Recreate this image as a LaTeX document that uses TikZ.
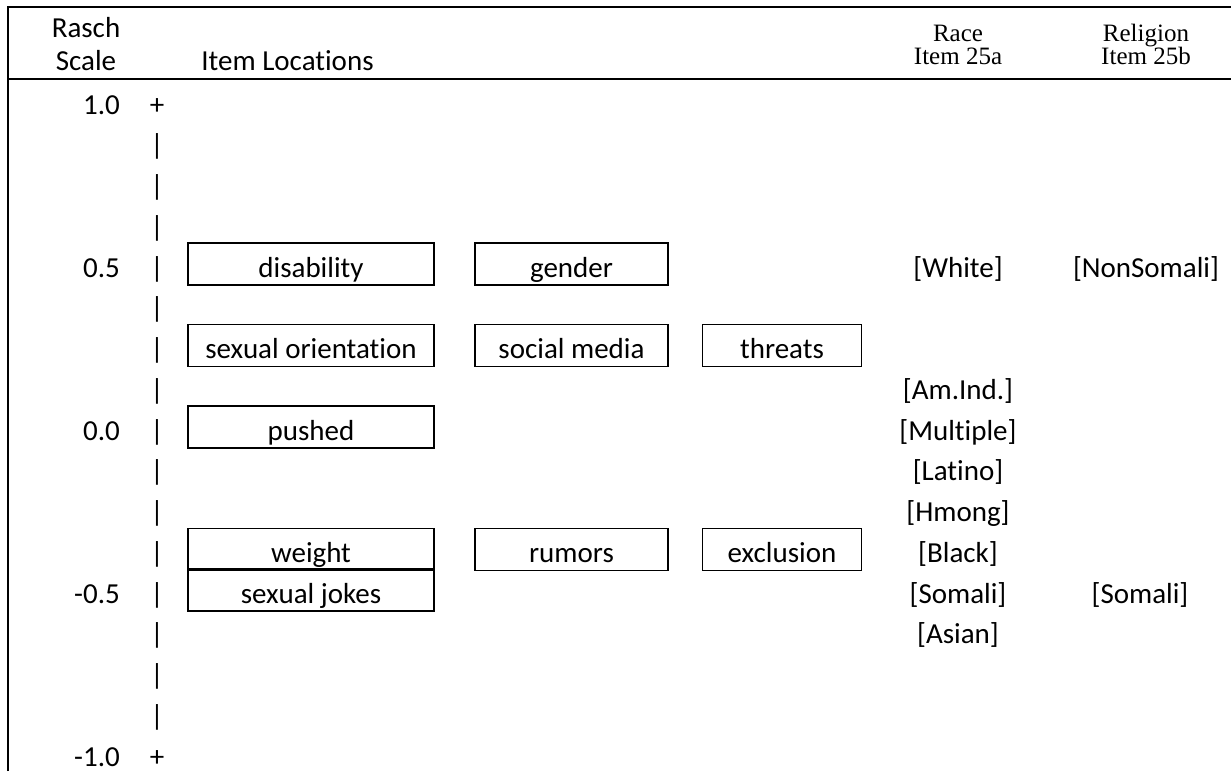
\documentclass[tikz,border=0pt]{standalone}
\usepackage{fontspec}
\setmainfont{Carlito}[Ligatures={NoCommon,NoContextual}]
\newfontfamily\timesfont{Liberation Serif}
\usetikzlibrary{positioning}

\begin{document}
\begin{tikzpicture}[x=1pt, y=-1pt,
    lbl/.style={font=\fontsize{29}{34}\selectfont, inner sep=0pt, anchor=base},
    itembox/.style={lbl, draw, line width=1.3pt, text height=34pt, text depth=8pt},
    hdr/.style={font=\timesfont\fontsize{25}{30}\selectfont, inner sep=0pt, anchor=base}]
    \useasboundingbox (0,0) rectangle (1231,771);

    % table rules
    \draw[line width=2.5pt] (8,771) -- (8,7) -- (1231,7);
    \draw[line width=2.5pt] (8,79) -- (1231,79);

    % headers
    \node[lbl] (rasch) at (86,37) {Rasch};
    \node[lbl] (scale) at (86,70) {Scale};
    \node[lbl] (itemloc) at (287.5,70) {Item Locations};
    \node[hdr] (race) at (958,41) {Race};
    \node[hdr] (racenum) at (958,64) {Item 25a};
    \node[hdr] (relig) at (1146,41) {Religion};
    \node[hdr] (relignum) at (1146,64) {Item 25b};

    % scale axis
    \node[lbl] (plustop) at (157,114) {+};
    \foreach \r in {1,...,15}
    \node[lbl] (bar\r) at (157,{114+40.75*\r}) {|};
    \node[lbl] (plusbot) at (157,{114+40.75*16}) {+};
    \foreach \v/\r in {1.0/0, 0.5/4, 0.0/8, -0.5/12, -1.0/16}
    \node[lbl, anchor=base east] (tick\r) at (120,{114+40.75*\r}) {\v};

    % item locations
    \node[itembox, minimum width=246pt] (disability) at (311,{114+40.75*4}) {disability};
    \node[itembox, minimum width=193pt] (gender) at (571.5,{114+40.75*4}) {gender};
    \node[itembox, minimum width=246pt] (sexor) at (311,{114+40.75*6}) {sexual orientation};
    \node[itembox, minimum width=193pt] (socmedia) at (571.5,{114+40.75*6}) {social media};
    \node[itembox, minimum width=159pt] (threats) at (782,{114+40.75*6}) {threats};
    \node[itembox, minimum width=246pt] (pushed) at (311,{114+40.75*8}) {pushed};
    \node[itembox, minimum width=246pt] (weight) at (311,{114+40.75*11}) {weight};
    \node[itembox, minimum width=193pt] (rumors) at (571.5,{114+40.75*11}) {rumors};
    \node[itembox, minimum width=159pt] (exclusion) at (782,{114+40.75*11}) {exclusion};
    \node[itembox, minimum width=246pt] (sexjokes) at (311,{114+40.75*12}) {sexual jokes};

    % race and religion groups
    \foreach \grp/\r in {White/4, Am.Ind./7, Multiple/8, Latino/9, Hmong/10, Black/11, Somali/12, Asian/13}
    \node[lbl] (race\r) at (958,{114+40.75*\r}) {[\grp]};
    \node[lbl] (nonsomali) at (1146,{114+40.75*4}) {[NonSomali]};
    \node[lbl] (somali) at (1140,{114+40.75*12}) {[Somali]};
\end{tikzpicture}
\end{document}
